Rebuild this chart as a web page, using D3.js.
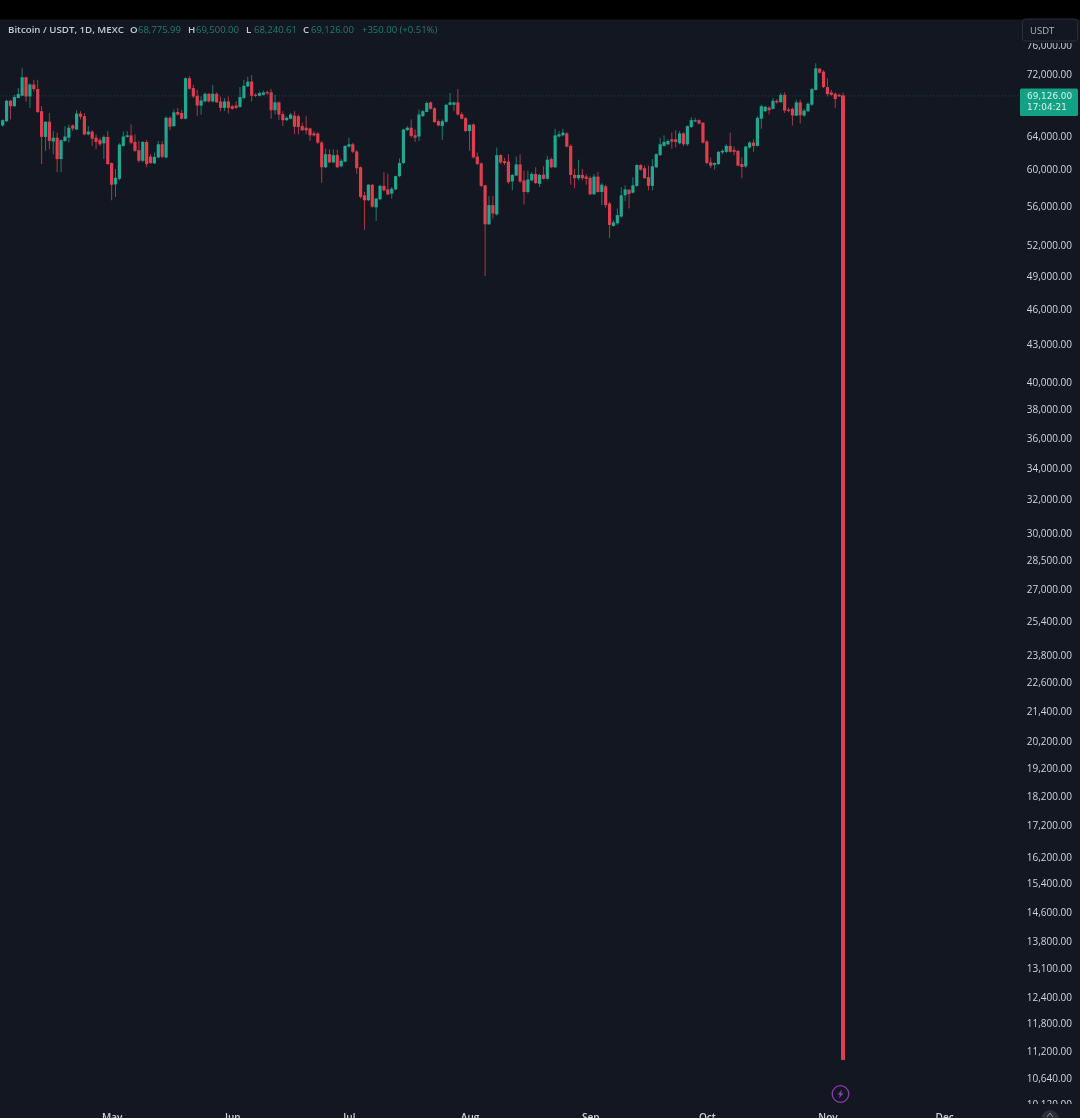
<!DOCTYPE html>
<html><head><meta charset="utf-8">
<script src="https://cdn.jsdelivr.net/npm/d3@7"></script>
<style>
html,body{margin:0;padding:0;background:#131722;overflow:hidden}
svg{display:block;filter:blur(0.35px)}
text{font-family:"Open Sans",sans-serif}
</style></head><body>
<svg id="c" width="1080" height="1118"></svg>
<script>
const firstDay = Date.UTC(2024, 3, 3);
const open = [65280,65810,68420,67710,68775,69080,71555,68990,70575,69965,67075,63870,65740,63315,63780,61230,63380,63780,65280,64780,66770,66440,64180,64520,63780,63510,63100,63870,60770,58345,58970,62785,63870,64060,63260,62275,61035,63260,61525,60730,61420,62980,61420,66240,65195,66980,66850,66120,71420,70100,69080,67800,68335,69340,68335,69340,68335,67500,68335,67710,67800,67630,68775,70320,70970,69210,69080,69210,69570,69520,67200,68210,66700,
65940,66120,66520,66440,65195,65000,64900,64300,64300,63180,60280,61800,60840,61720,60390,60930,62710,62980,62120,60280,57150,56610,58310,55850,56720,58180,57795,57330,57795,59270,60770,64700,65000,64060,63920,66440,66980,68210,67455,65810,65195,65740,67900,67900,68210,66700,66190,64590,65400,61525,60730,58240,54080,56090,55110,61690,60990,60930,58670,59335,60620,58790,57510,58790,59520,58410,59445,58970,61230,60280,63920,64060,64300,62785,59410,
59040,59410,59225,59080,57250,59225,57510,58130,56260,53910,54180,54880,57150,57760,57440,58180,60540,60170,59160,58180,60280,61690,62785,62980,63580,63580,63100,64300,62980,65080,65810,65940,65620,63315,60840,60570,60650,62010,62080,62785,62310,62195,60650,60390,62590,63180,62785,66120,67075,67540,67375,68420,68250,69200,67280,67375,66520,68210,66520,67075,67900,69850,72730,72320,70230,69520,69340,69200,69126];
const high = [66030,68550,68550,69210,70100,72790,71635,70760,71200,71200,67710,65810,66850,64590,64400,63580,65195,65400,65400,67200,67075,66850,65195,64700,64180,63780,64060,64590,60840,60090,63100,64550,64590,65400,64180,63380,63380,63510,61800,62010,63380,63380,66440,66440,67280,67500,67280,71555,71730,70520,69850,68990,69520,69430,70520,69520,68990,68775,68990,67900,68335,70230,71200,71635,71860,69430,69650,69760,69760,69965,69210,68335,67075,
66440,66850,67075,66650,65620,66440,65000,64590,64450,63380,62470,62390,62390,62310,61230,62860,63780,63180,62310,60390,57510,58410,58380,56865,58310,59715,59520,58050,59335,61310,64860,65195,66030,64780,67280,67280,68335,68335,67580,66030,66030,68030,69440,68335,69965,66950,66370,65400,65525,62010,60840,58310,57080,57080,62590,61800,61380,61800,59520,61525,61800,59900,59900,59715,60280,59520,60390,61610,61420,64860,64590,64860,64450,62980,60090,
61150,60090,59520,59270,59520,59780,58490,58310,56440,54510,55730,58050,58240,57795,59160,60650,60650,60470,60470,61230,61920,63780,64060,63580,64400,64700,64590,64450,65280,66310,66240,66030,65690,63500,61420,60840,62195,62390,62980,64400,62710,62310,61420,62785,63380,63580,66440,67900,67800,67710,68775,68640,69440,69520,67540,67540,68550,68550,67375,68210,70100,73490,72825,72550,71420,69850,69520,69340,69500];
const low = [65120,65690,66030,67630,68775,68990,68335,67500,69650,66850,60650,62195,62390,61800,59715,59715,63260,63180,64590,64700,66030,64060,64060,62785,62390,62785,61230,60540,56610,56975,58790,62710,63780,62980,62080,60840,60840,60280,60650,60650,61310,61310,61310,64700,65120,66520,66030,66030,69850,68775,66440,66650,68210,68210,68210,68130,67075,67075,66770,67280,67370,67500,68640,70230,68335,68900,68990,69080,69210,66120,66650,65940,65195,
65810,66030,64180,64180,64590,64180,63380,63920,62980,58520,60170,60770,60770,60170,60280,60840,62590,61920,59520,56790,53510,56510,55820,54420,56610,57580,57150,56790,57690,59160,60650,64590,63780,63260,63380,66370,66950,67280,65620,65195,63510,65620,67800,67075,66520,66030,64450,62195,61310,60540,58050,49000,54010,54690,54970,60650,60540,58410,57690,59270,58520,56160,57330,58670,58410,58050,58890,58890,60170,60170,63780,63920,62590,58310,57950,
58790,58790,58310,57150,57220,57440,56090,55820,52670,53850,54010,54770,56510,55730,57330,58050,59900,58970,57690,57690,60170,61610,62710,62860,62470,62590,62980,62785,62785,65000,65690,65400,63050,60650,60170,60010,60540,61800,61920,62010,61690,60390,59040,60170,62470,62080,62710,64860,66950,66650,67280,68040,68130,66850,66950,65280,66440,65525,66370,66950,67800,69760,72100,70100,68990,69080,67500,68900,11010];
const close = [65940,68420,67710,68910,69305,71555,68990,70575,69965,66980,63870,65740,63380,63780,61230,63470,63920,65000,64880,66770,66360,64180,64520,63665,63260,62980,63870,60650,58310,59080,62940,63920,64060,63180,62195,61035,63260,60650,60770,61490,62980,61490,66240,65120,66930,66650,66120,71420,70000,68990,67800,68460,69340,68335,69340,68210,67500,68335,67500,67375,67500,68900,70400,70970,69080,69080,69430,69520,69430,67200,68210,66650,65940,
66240,66650,65120,65080,64700,64660,64060,64060,63180,60280,61800,60840,61690,60280,61035,62785,62980,62080,60170,56975,56610,58310,55920,56790,58180,57690,57250,57870,59270,60770,64780,65000,63990,63780,66650,67075,68130,67375,65690,65280,65810,67900,68210,68210,66650,66120,64590,65360,61420,60650,58180,54080,56090,55210,61690,60840,60770,58590,59410,60620,58670,57510,58890,59520,58490,59410,58970,61150,60280,64060,64180,64400,62710,59410,59040,
59410,59040,58970,57250,59225,57510,58310,56090,54010,54280,55040,57150,57795,57300,58240,60540,60010,59040,58180,60390,61800,62980,63260,63380,63300,63260,64300,62980,65195,65940,65940,65525,63180,60770,60470,60770,62080,62195,62785,62080,62080,60470,60310,62710,63180,62785,66240,67710,67630,67200,68420,68210,69200,67150,67150,66520,68210,66560,67150,68030,69965,72790,72180,70230,69305,69200,68640,68990,11010];
const priceTicks = [76000,72000,64000,60000,56000,52000,49000,46000,43000,40000,38000,36000,34000,32000,30000,28500,27000,25400,23800,22600,21400,20200,19200,18200,17200,16200,15400,14600,13800,13100,12400,11800,11200,10640,10120];
const monthStarts = [[2024,4],[2024,5],[2024,6],[2024,7],[2024,8],[2024,9],[2024,10],[2024,11]];
const legendTitle = "Bitcoin / USDT, 1D, MEXC";
const legendItems = [["O","68,775.99",130],["H","69,500.00",188],["L","68,240.61",246],["C","69,126.00",303]];
const legendChange = "+350.00 (+0.51%)";
const lastPrice = 69126, countdown = "17:04:21", currency = "USDT";

const UP="#22a68f", DOWN="#dc3f4e", BG="#131722", LABEL="#d1d4dc";
const DAY=864e5;
const candles = open.map((o,i)=>({date:new Date(firstDay+i*DAY),o,h:high[i],l:low[i],c:close[i]}));
const svg=d3.select("#c");
svg.append("rect").attr("width",1080).attr("height",1118).attr("fill",BG);
const x=d3.scaleUtc().domain([new Date(firstDay),candles[candles.length-1].date]).range([2.7,843]);
const y=d3.scaleLog().domain([72000,11200]).range([74,1051]);
svg.append("defs").append("clipPath").attr("id","pane").append("rect").attr("x",0).attr("y",20).attr("width",1020).attr("height",1084);
svg.append("clipPath").attr("id","scale").append("rect").attr("x",1020).attr("y",43).attr("width",60).attr("height",1061);

// last price line
svg.append("line").attr("x1",0).attr("x2",1020).attr("y1",y(lastPrice)+0.5).attr("y2",y(lastPrice)+0.5)
  .attr("stroke",UP).attr("stroke-opacity",.32).attr("stroke-dasharray","1 2");

const plot=svg.append("g").attr("clip-path","url(#pane)");
const last=candles.length-1;
plot.selectAll("line.w").data(candles).join("line").attr("class","w")
  .attr("x1",d=>x(d.date)).attr("x2",d=>x(d.date)).attr("y1",d=>y(d.h)).attr("y2",d=>y(d.l))
  .attr("stroke",d=>d.c>=d.o?"#1d7c6c":"#a83a45").attr("stroke-width",1);
plot.selectAll("rect.b").data(candles).join("rect").attr("class","b")
  .attr("x",(d,i)=>x(d.date)-(i===last?2:1.6)).attr("width",(d,i)=>i===last?4:3.2)
  .attr("y",d=>y(Math.max(d.o,d.c))).attr("height",d=>Math.max(1.2,y(Math.min(d.o,d.c))-y(Math.max(d.o,d.c))))
  .attr("fill",d=>d.c>=d.o?UP:DOWN);

// price axis
const fmt=d3.format(",.2f");
const gy=svg.append("g").attr("clip-path","url(#scale)");
const ax=d3.axisRight(y).tickValues(priceTicks).tickFormat(fmt).tickSize(0).tickPadding(0);
const gyInner=gy.append("g").attr("transform","translate(1072,0)").call(ax);
gyInner.select(".domain").remove();
gyInner.selectAll("text").attr("text-anchor","end").attr("fill",LABEL).attr("font-size",10).attr("font-weight",500);

// time axis
const ticks=monthStarts.map(([a,m])=>new Date(Date.UTC(a,m,1)));
const gx=svg.append("g").attr("transform","translate(0,1112)")
  .call(d3.axisBottom(x).tickValues(ticks).tickFormat(d3.utcFormat("%b")).tickSize(0).tickPadding(0));
gx.select(".domain").remove();
gx.selectAll("text").attr("fill",LABEL).attr("font-size",10).attr("font-weight",600).attr("dy",0).attr("y",9);

// top bar
svg.append("rect").attr("width",1080).attr("height",19.5).attr("fill","#000");

// legend
const lg=svg.append("g");
lg.append("text").attr("x",8).attr("y",33).attr("font-size",9.7).attr("font-weight",600).attr("fill","#c5c9d2").text(legendTitle);
legendItems.forEach(([k,v,px])=>{
  lg.append("text").attr("x",px).attr("y",33).attr("font-size",9.7).attr("font-weight",600).attr("fill","#c5c9d2").text(k);
  lg.append("text").attr("x",px+8).attr("y",33).attr("font-size",9.5).attr("fill","#1d7f6e").text(v);
});
lg.append("text").attr("x",362).attr("y",33).attr("font-size",9.5).attr("fill","#1d7f6e").text(legendChange);

// currency box
svg.append("rect").attr("x",1022.5).attr("y",19).attr("width",55).attr("height",22).attr("rx",3).attr("fill",BG).attr("stroke","#2a2e39");
svg.append("text").attr("x",1030).attr("y",34).attr("font-size",9.5).attr("fill","#b2b5be").text(currency);

// price badge
svg.append("rect").attr("x",1020).attr("y",y(lastPrice)-7).attr("width",58).attr("height",27.5).attr("rx",1.5).attr("fill","#12a184");
svg.append("text").attr("x",1027).attr("y",y(lastPrice)+4).attr("font-family","DejaVu Sans").style("font-family","DejaVu Sans").attr("font-size",8.9).attr("fill","#d8f2ea").text(d3.format(",.2f")(lastPrice));
svg.append("text").attr("x",1027).attr("y",y(lastPrice)+15).style("font-family","DejaVu Sans").attr("font-size",8.9).attr("fill","#d8f2ea").text(countdown);

// lightning icon
const ic=svg.append("g").attr("transform","translate(840.5,1094)");
ic.append("circle").attr("r",8.3).attr("fill","none").attr("stroke","#9238b0").attr("stroke-width",1.3);
ic.append("path").attr("d","M1.6,-4.5 L-3,0.8 L-0.5,0.8 L-1.6,4.5 L3,-0.8 L0.5,-0.8 Z").attr("fill","#9238b0");

// scroll button
const sb=svg.append("g").attr("transform","translate(1050,1119)");
sb.append("circle").attr("r",9).attr("fill","#2a2e39");
sb.append("path").attr("d","M-3,-2 L0,-6 L3,-2").attr("fill","none").attr("stroke","#8a8e99");
</script>
</body></html>
